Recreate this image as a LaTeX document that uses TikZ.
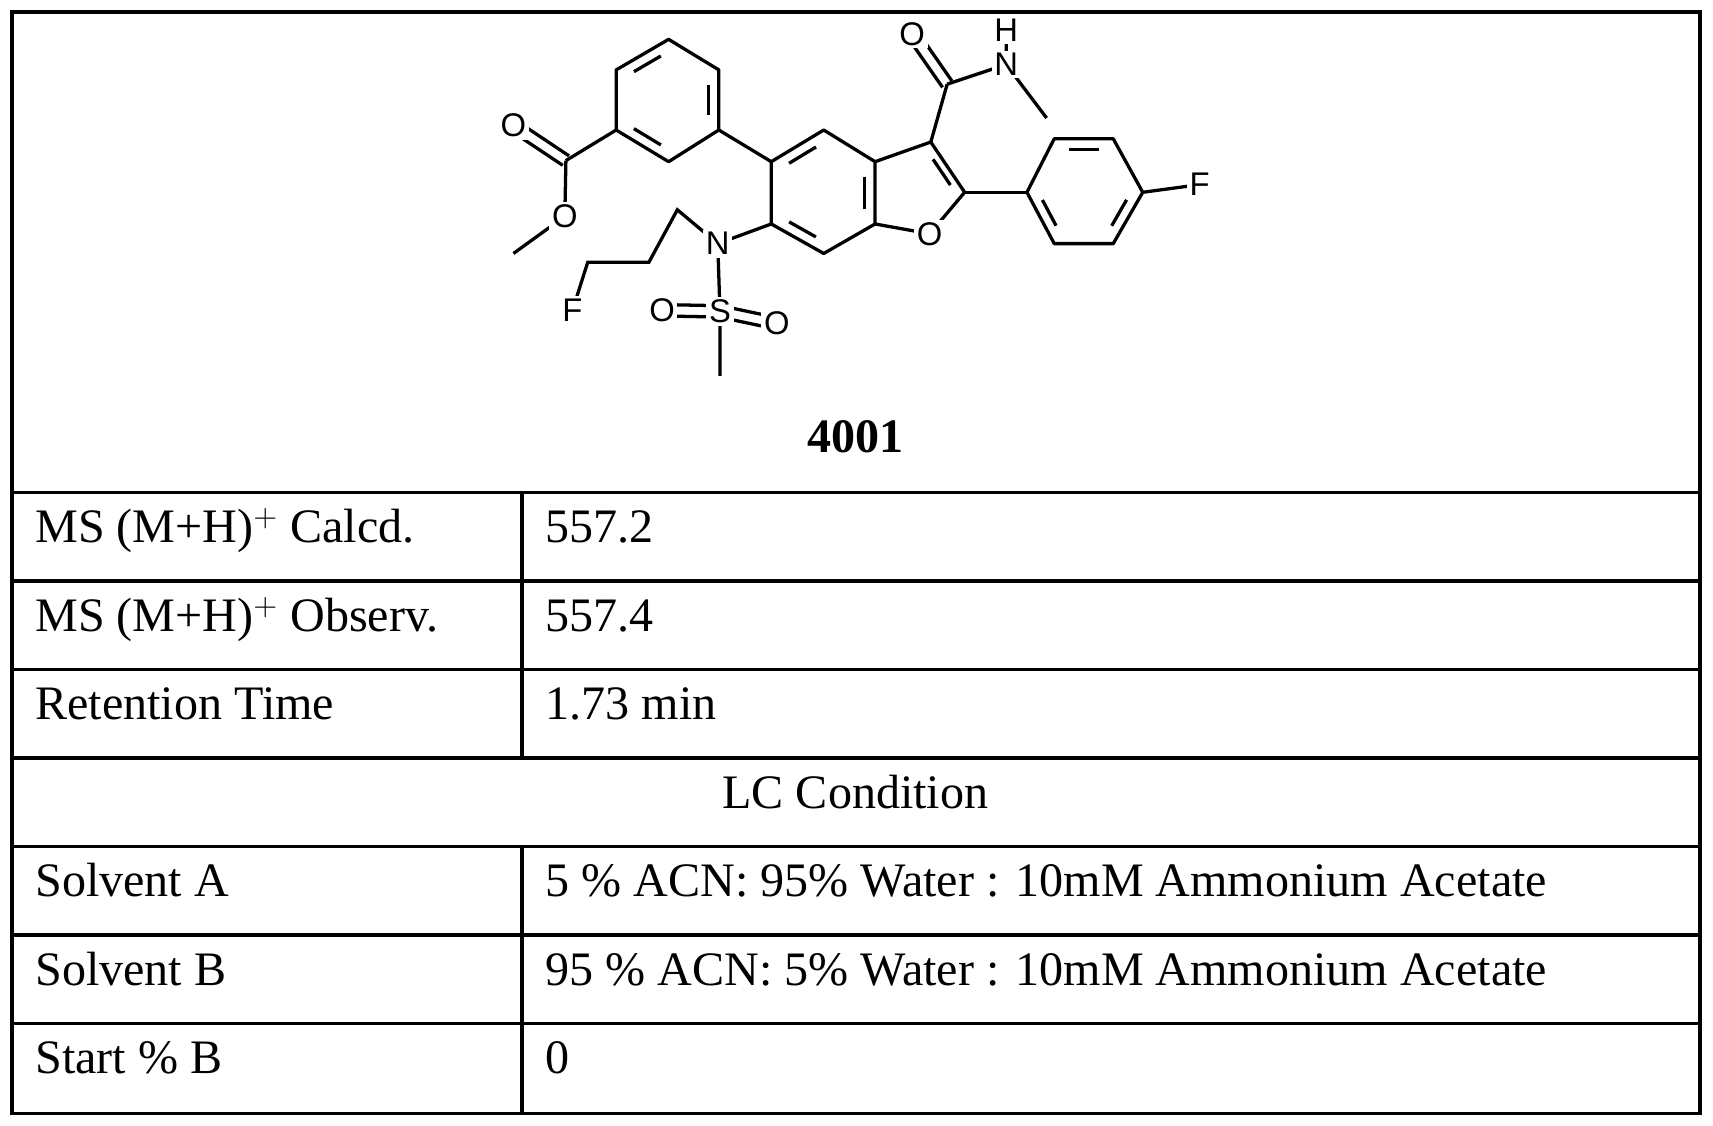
\documentclass[tikz,border=0pt]{standalone}
\usepackage{fontspec}
\setmainfont{Liberation Serif}
\setsansfont{Liberation Sans}
\usetikzlibrary{calc}
\begin{document}
\begin{tikzpicture}[x=0.5pt,y=-0.5pt,
  grid/.style={line width=1.6pt},
  bond/.style={line width=1.5pt},
  atom/.style={font=\sffamily\fontsize{15}{15}\selectfont, fill=white, inner sep=1.2pt},
  cell/.style={font=\fontsize{22}{24}\selectfont, anchor=base west, inner sep=0pt}]
\useasboundingbox (0,0) rectangle (1568,1030);
\newcommand{\inb}[3]{\draw[bond,shorten <=4pt,shorten >=4pt] ($(#1)!0.2!(#3)$) -- ($(#2)!0.2!(#3)$);}
\newcommand{\dblb}[2]{\draw[bond] ($(#1)!2.6pt!90:(#2)$) -- ($(#2)!2.6pt!-90:(#1)$);
  \draw[bond] ($(#1)!2.6pt!-90:(#2)$) -- ($(#2)!2.6pt!90:(#1)$);}
% table
\draw[grid] (11,11) rectangle (1556,1019);
\foreach \yy in {451,532,613,694,775,856,937} \draw[grid] (11,\yy) -- (1556,\yy);
\draw[grid] (478,451) -- (478,694);
\draw[grid] (478,775) -- (478,1019);
\node[cell] (r1a) at (32,497) {MS (M+H)$^{+}$ Calcd.};
\node[cell] (r1b) at (499,497) {557.2};
\node[cell] (r2a) at (32,578) {MS (M+H)$^{+}$ Observ.};
\node[cell] (r2b) at (499,578) {557.4};
\node[cell] (r3a) at (32,659) {Retention Time};
\node[cell] (r3b) at (499,659) {1.73 min};
\node[cell,anchor=base] (lc) at (783,740) {LC Condition};
\node[cell] (r5a) at (32,821) {Solvent A};
\node[cell] (r5b) at (499,821) {5 \% ACN: 95\% Water : 10mM Ammonium Acetate};
\node[cell] (r6a) at (32,902) {Solvent B};
\node[cell] (r6b) at (499,902) {95 \% ACN: 5\% Water : 10mM Ammonium Acetate};
\node[cell] (r7a) at (32,983) {Start \% B};
\node[cell] (r7b) at (499,983) {0};
\node[cell,anchor=base,font=\bfseries\fontsize{22}{24}\selectfont] (lbl) at (783,414) {4001};
% molecule coordinates
\coordinate (a1) at (612,36); \coordinate (a2) at (658,64); \coordinate (a3) at (658,119);
\coordinate (a4) at (612,148); \coordinate (a5) at (564,119); \coordinate (a6) at (564,64);
\coordinate (ac) at (611,92);
\coordinate (ec) at (518,147); \coordinate (eo1) at (470,115); \coordinate (eo2) at (517,198); \coordinate (eme) at (470,232);
\coordinate (b5) at (706,148); \coordinate (b4) at (754,119); \coordinate (b3a) at (801,148);
\coordinate (b7a) at (801,205); \coordinate (b7) at (754,232); \coordinate (b6) at (706,205);
\coordinate (bc) at (753,176);
\coordinate (c3) at (852,130); \coordinate (c2) at (883,176); \coordinate (o1) at (851,214);
\coordinate (fc) at (840,176);
\coordinate (amc) at (867,77); \coordinate (amo) at (835,31); \coordinate (amn) at (921,59); \coordinate (amh) at (921,28); \coordinate (amme) at (958,108);
\coordinate (p1) at (940,176); \coordinate (p2) at (965,127); \coordinate (p3) at (1019,127);
\coordinate (p4) at (1046,176); \coordinate (p5) at (1019,223); \coordinate (p6) at (965,223);
\coordinate (pc) at (992,176); \coordinate (pf) at (1098,169);
\coordinate (n) at (657,223); \coordinate (k1) at (620,192); \coordinate (k2) at (594,240); \coordinate (k3) at (538,240); \coordinate (kf) at (524,284);
\coordinate (s) at (659,285); \coordinate (so1) at (606,284); \coordinate (so2) at (711,296); \coordinate (sme) at (659,344);
% bonds
\draw[bond,line join=round] (a1)--(a2)--(a3)--(a4)--(a5)--(a6)--cycle;
\inb{a6}{a1}{ac} \inb{a2}{a3}{ac} \inb{a4}{a5}{ac}
\draw[bond] (a5)--(ec) (ec)--(eo2)--(eme);
\dblb{ec}{eo1}
\draw[bond] (a3)--(b5);
\draw[bond,line join=round] (b5)--(b4)--(b3a)--(b7a)--(b7)--(b6)--cycle;
\inb{b5}{b4}{bc} \inb{b3a}{b7a}{bc} \inb{b6}{b7}{bc}
\draw[bond,line join=round] (b3a)--(c3)--(c2)--(o1)--(b7a);
\inb{c3}{c2}{fc}
\draw[bond] (c3)--(amc) (amc)--(amn) (amn)--(amme) (amn)--(amh);
\dblb{amc}{amo}
\draw[bond] (c2)--(p1);
\draw[bond,line join=round] (p1)--(p2)--(p3)--(p4)--(p5)--(p6)--cycle;
\inb{p2}{p3}{pc} \inb{p4}{p5}{pc} \inb{p6}{p1}{pc}
\draw[bond] (p4)--(pf);
\draw[bond] (b6)--(n) (n)--(k1)--(k2)--(k3)--(kf) (n)--(s)--(sme);
\dblb{s}{so1} \dblb{s}{so2}
% atom labels
\node[atom] (leo1) at (eo1) {O}; \node[atom] (leo2) at (eo2) {O};
\node[atom] (lo1) at (o1) {O}; \node[atom] (lamo) at (amo) {O};
\node[atom] (lamn) at (amn) {N}; \node[atom] (lamh) at (amh) {H};
\node[atom] (lpf) at (pf) {F}; \node[atom] (ln) at (n) {N};
\node[atom] (lkf) at (kf) {F}; \node[atom] (ls) at (s) {S};
\node[atom] (lso1) at (so1) {O}; \node[atom] (lso2) at (so2) {O};
\end{tikzpicture}
\end{document}
